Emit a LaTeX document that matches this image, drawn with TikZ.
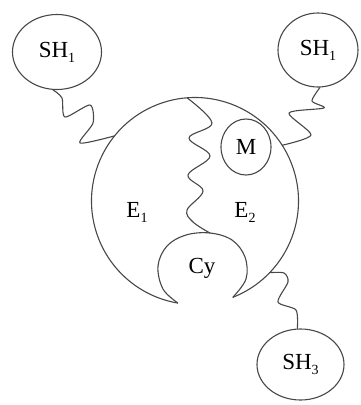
\documentclass[tikz,border=0pt]{standalone}
\usepackage{fontspec}
\setmainfont{Liberation Serif}
\usetikzlibrary{shapes.geometric,calc}
\newcommand\subsc[1]{\raisebox{-0.22em}{\fontsize{14}{14}\selectfont #1}}
\begin{document}
\begin{tikzpicture}[x=1pt,y=1pt,
  line/.style={draw=black!72,line width=1.1pt},
  blob/.style={ellipse,line,inner sep=0pt,text=black,font=\fontsize{23}{23}\selectfont},
  lbl/.style={text=black,font=\fontsize{23}{23}\selectfont,inner sep=0pt},
  wig/.style={line,line cap=round,line join=round}]
\useasboundingbox (0,0) rectangle (360,-405);
% cell body
\coordinate (bc) at (195,-201);
\coordinate (R) at ($(bc)+(-68.6:103.5)$);
\coordinate (L) at ($(bc)+(260.5:103.5)$);
\coordinate (cytop) at (210,-233);
\draw[line] (R) arc[start angle=-68.6,end angle=260.5,radius=103.5];
\draw[line] plot[smooth,tension=0.6] coordinates {(L) (163,-289) (158,-266) (167,-246) (186,-235) (cytop) (232,-240) (245,-257) (246,-279) (R)};
% nodes
\node[blob,minimum width=89pt,minimum height=75pt] (sh1a) at (57,-52) {SH\subsc{1}};
\node[blob,minimum width=80pt,minimum height=74pt] (sh1b) at (318,-50) {SH\subsc{1}};
\node[blob,minimum width=87pt,minimum height=71pt] (sh3) at (300.5,-364.5) {SH\subsc{3}};
\node[blob,minimum width=50pt,minimum height=56pt] (m) at (246,-147) {M};
\node[lbl] (e1) at (137,-212) {E\subsc{1}};
\node[lbl] (e2) at (245,-212) {E\subsc{2}};
\node[lbl] (cy) at (202,-268) {Cy};
% wiggly connectors
\coordinate (ba) at ($(bc)+(141:103.5)$);
\coordinate (bb) at ($(bc)+(32.6:103.5)$);
\coordinate (b3) at ($(bc)+(-43.8:103.5)$);
\coordinate (btop) at ($(bc)+(94.4:103.5)$);
\draw[wig] plot[smooth,tension=0.45] coordinates {(sh1a.-96) (62,-98) (65,-117) (90,-105) (93,-123) (80,-143) (ba)};
\draw[wig] plot[smooth,tension=0.45] coordinates {(sh1b.-87) (312,-101) (324,-108) (289,-113) (311,-135) (bb)};
\draw[wig] plot[smooth,tension=0.45] coordinates {(b3) (284,-273) (288,-282) (278,-302) (296,-310) (sh3.95)};
\draw[wig] plot[smooth,tension=0.6] coordinates {(btop) (212,-123) (189,-138) (210,-156) (188,-175) (203,-191) (187,-210) (193,-222) (cytop)};
\end{tikzpicture}
\end{document}
